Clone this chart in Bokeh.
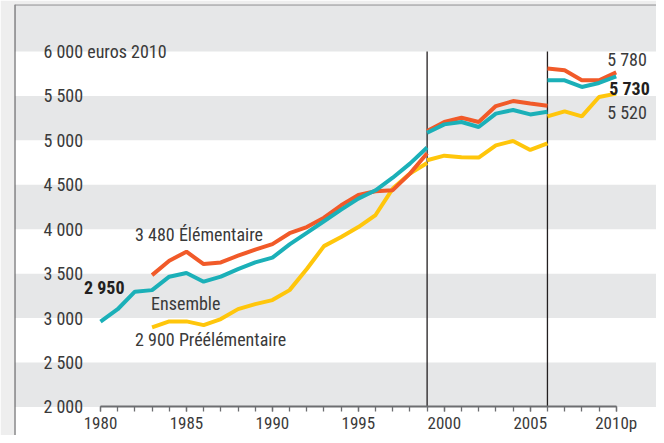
from bokeh.plotting import figure
from bokeh.models import Range1d, LinearAxis, FixedTicker, BoxAnnotation, Label, Span
from bokeh.embed import file_html
from bokeh.resources import INLINE

# ---------------- data ----------------
years_ens_1 = list(range(1980, 2000))
years_1 = list(range(1983, 2000))
years_2 = list(range(1999, 2007))
years_3 = list(range(2006, 2011))

ensemble_1 = [2960, 3100, 3297, 3315, 3466, 3507, 3410, 3466, 3552, 3627,
              3680, 3830, 3960, 4090, 4220, 4345, 4438, 4580, 4738, 4920]
ensemble_2 = [5085, 5180, 5207, 5150, 5301, 5342, 5292, 5323]
ensemble_3 = [5676, 5676, 5601, 5646, 5720]

elementaire_1 = [3484, 3646, 3747, 3608, 3627, 3702, 3770, 3833, 3955, 4025,
                 4130, 4269, 4385, 4427, 4440, 4626, 4855]
elementaire_2 = [5105, 5207, 5254, 5207, 5386, 5442, 5414, 5390]
elementaire_3 = [5808, 5789, 5676, 5676, 5765]

preelementaire_1 = [2895, 2963, 2963, 2921, 2989, 3101, 3158, 3203, 3315, 3552,
                    3810, 3912, 4025, 4160, 4457, 4626, 4745]
preelementaire_2 = [4776, 4828, 4810, 4806, 4944, 4993, 4892, 4967]
preelementaire_3 = [5270, 5327, 5270, 5488, 5526]

series_names = ["3 480 Élémentaire", "Ensemble", "2 900 Préélémentaire"]
start_label = "2 950"
end_labels = ["5 780", "5 730", "5 520"]

y_ticks = [2000, 2500, 3000, 3500, 4000, 4500, 5000, 5500, 6000]
y_tick_labels = ["2 000", "2 500", "3 000", "3 500", "4 000", "4 500",
                 "5 000", "5 500", "6 000 euros 2010"]
x_ticks = [1980, 1985, 1990, 1995, 2000, 2005, 2010]
x_tick_labels = ["1980", "1985", "1990", "1995", "2000", "2005", "2010p"]
x_minor = list(range(1980, 2011))
breaks = [1999, 2006]
band_bottoms = [2000, 3000, 4000, 5000, 6000]

# ---------------- style ----------------
FONT = "Roboto Condensed, DejaVu Sans Condensed, Liberation Sans"
FS = "18px"
TXT = "#3a3a3a"
ORANGE = "#f15a29"
TEAL = "#1bb0b8"
YELLOW = "#ffc60b"
BAND = "#e6e7e8"

X0, X1 = 1974.997, 2012.344
Y0, Y1 = 1679.3, 6528.6

p = figure(width=656, height=435,
           x_range=Range1d(X0, X1), y_range=Range1d(Y0, Y1),
           x_axis_type=None, y_axis_type=None,
           toolbar_location=None, output_backend="svg", title=None,
           min_border_left=14, min_border_right=0,
           min_border_top=4, min_border_bottom=0)
p.border_fill_color = "#eeeeee"
p.background_fill_color = "white"
p.outline_line_color = None

for b in band_bottoms:
    top = b + 500 if b < 6000 else None
    p.add_layout(BoxAnnotation(bottom=b, top=top, fill_color=BAND, fill_alpha=1.0,
                               line_color=None, level="underlay"))

# frame edges (left dark, top grey)
p.add_layout(Span(location=X0, dimension="height", line_color="#4d4d4f",
                  line_width=2))
p.add_layout(Span(location=Y1, dimension="width", line_color="#8a8a8c",
                  line_width=2))

# vertical break lines
p.segment(x0=breaks, y0=[y_ticks[0]] * 2, x1=breaks, y1=[y_ticks[-1]] * 2,
          line_color="#231f20", line_width=1.3)

# series
p.multi_line(xs=[years_1, years_2, years_3],
             ys=[preelementaire_1, preelementaire_2, preelementaire_3],
             line_color=YELLOW, line_width=4)
p.multi_line(xs=[years_1, years_2, years_3],
             ys=[elementaire_1, elementaire_2, elementaire_3],
             line_color=ORANGE, line_width=4)
p.multi_line(xs=[years_ens_1, years_2, years_3],
             ys=[ensemble_1, ensemble_2, ensemble_3],
             line_color=TEAL, line_width=4)

# x axis drawn at the 2 000 level
xaxis = LinearAxis(fixed_location=y_ticks[0],
                   ticker=FixedTicker(ticks=x_ticks, minor_ticks=x_minor),
                   bounds=(x_ticks[0], x_ticks[-1]))
xaxis.major_label_overrides = dict(zip(x_ticks, x_tick_labels))
xaxis.axis_line_color = "#6d6e71"
xaxis.axis_line_width = 2
xaxis.major_tick_line_color = "#6d6e71"
xaxis.minor_tick_line_color = "#6d6e71"
xaxis.major_tick_line_width = 1.3
xaxis.minor_tick_line_width = 1.3
xaxis.major_tick_in = 0
xaxis.major_tick_out = 5
xaxis.minor_tick_in = 0
xaxis.minor_tick_out = 5
xaxis.major_label_standoff = 1
xaxis.major_label_text_font = FONT
xaxis.major_label_text_font_size = "17px"
xaxis.major_label_text_color = TXT
p.add_layout(xaxis, "below")

# y labels inside the plot, left aligned
yaxis = LinearAxis(fixed_location=1976.68,
                   ticker=FixedTicker(ticks=y_ticks, minor_ticks=[]))
yaxis.major_label_overrides = dict(zip(y_ticks, y_tick_labels))
yaxis.axis_line_color = None
yaxis.major_tick_line_color = None
yaxis.minor_tick_line_color = None
yaxis.major_tick_in = 0
yaxis.major_tick_out = 0
yaxis.major_label_standoff = 0
yaxis.major_label_text_font = FONT
yaxis.major_label_text_font_size = FS
yaxis.major_label_text_color = TXT
p.add_layout(yaxis, "right")

def lab(text, x, y, dx, dy, align="left", bold=False, color=TXT):
    p.add_layout(Label(x=x, y=y, x_offset=dx, y_offset=dy, text=text,
                       text_font=FONT, text_font_size=FS,
                       text_font_style="bold" if bold else "normal",
                       text_color=color, text_align=align,
                       text_baseline="middle"))

lab(series_names[0], years_1[0], elementaire_1[0], -17, 41)
lab(series_names[1], years_1[0], ensemble_1[3], -1, -13)
lab(series_names[2], years_1[0], preelementaire_1[0], -17, -12)
lab(start_label, years_ens_1[0], ensemble_1[0], 24, 34, align="right",
    bold=True, color="#231f20")
lab(end_labels[0], years_3[-1], elementaire_3[-1], -9, 13)
lab(end_labels[1], years_3[-1], ensemble_3[-1], -7, -12, bold=True, color="#231f20")
lab(end_labels[2], years_3[-1], preelementaire_3[-1], -9, -19)

open("out.html", "w").write(file_html(p, INLINE))
